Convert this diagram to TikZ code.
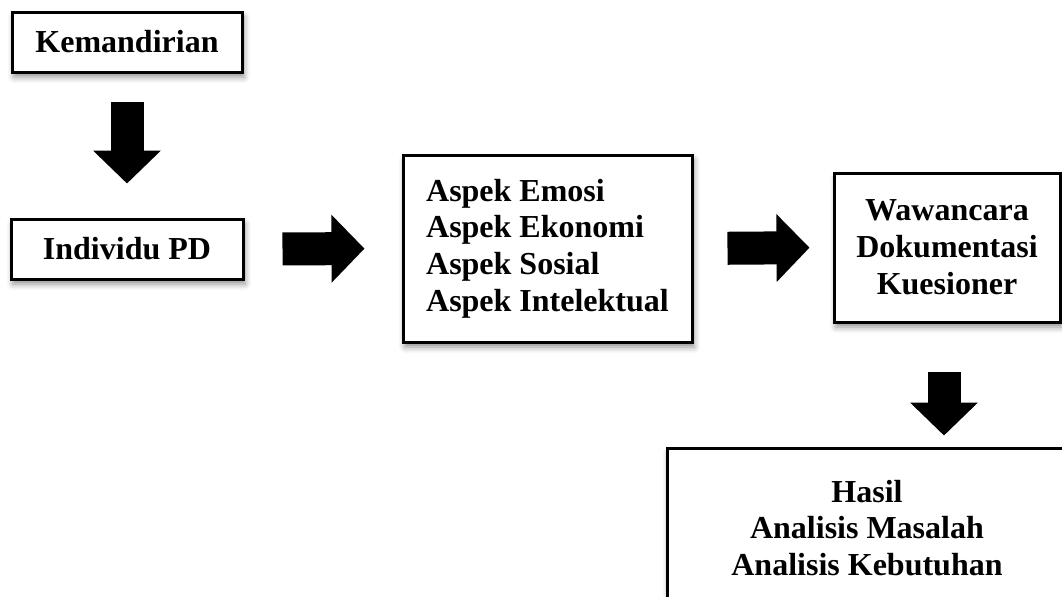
\documentclass[tikz,border=0pt]{standalone}
\usepackage{fontspec}
\setmainfont{Liberation Serif}
\usetikzlibrary{arrows.meta,positioning,shadows.blur}

\begin{document}
\begin{tikzpicture}[x=0.5pt,y=-0.5pt,
  every node/.style={font=\bfseries\fontsize{16}{18.4}\selectfont},
  box/.style={draw,line width=1.5pt,fill=white,align=center,inner sep=4pt,
    blur shadow={shadow xshift=1pt,shadow yshift=-2.5pt,shadow blur radius=3pt,shadow opacity=45}},
  blk/.style={line width=16.5pt,-{Triangle[length=16.5pt,width=33pt]}}]
\useasboundingbox (0,0) rectangle (1062,596);
\clip (0,0) rectangle (1062,596);
\node[box,minimum width=115pt,minimum height=30pt] (kem) at (127,42) {Kemandirian};
\node[box,minimum width=116pt,minimum height=30pt] (ind) at (127,249) {Individu PD};
\node[box,align=left,minimum width=144.5pt,minimum height=93.5pt] (asp) at (547.5,248.5)
  {Aspek Emosi\\ Aspek Ekonomi\\ Aspek Sosial\\ Aspek Intelektual};
\node[box,minimum width=113pt,minimum height=74.5pt] (waw) at (947,247.5)
  {Wawancara\\ Dokumentasi\\ Kuesioner};
\node[box,minimum width=200pt,minimum height=80pt] (has) at (867,528)
  {Hasil\\ Analisis Masalah\\ Analisis Kebutuhan};
\draw[blk,shorten <=14pt,shorten >=17pt] (kem.south) -- (ind.north);
\draw[blk,shorten <=19pt,shorten >=18.5pt] (ind.east) -- (asp.west);
\draw[blk,shorten <=17pt,shorten >=11.5pt] (asp.east) -- (waw.west);
\draw[blk,shorten <=24pt,shorten >=5.5pt] ([xshift=-1.5pt]waw.south) -- ([xshift=-1.5pt]waw.south |- has.north);
\end{tikzpicture}
\end{document}
